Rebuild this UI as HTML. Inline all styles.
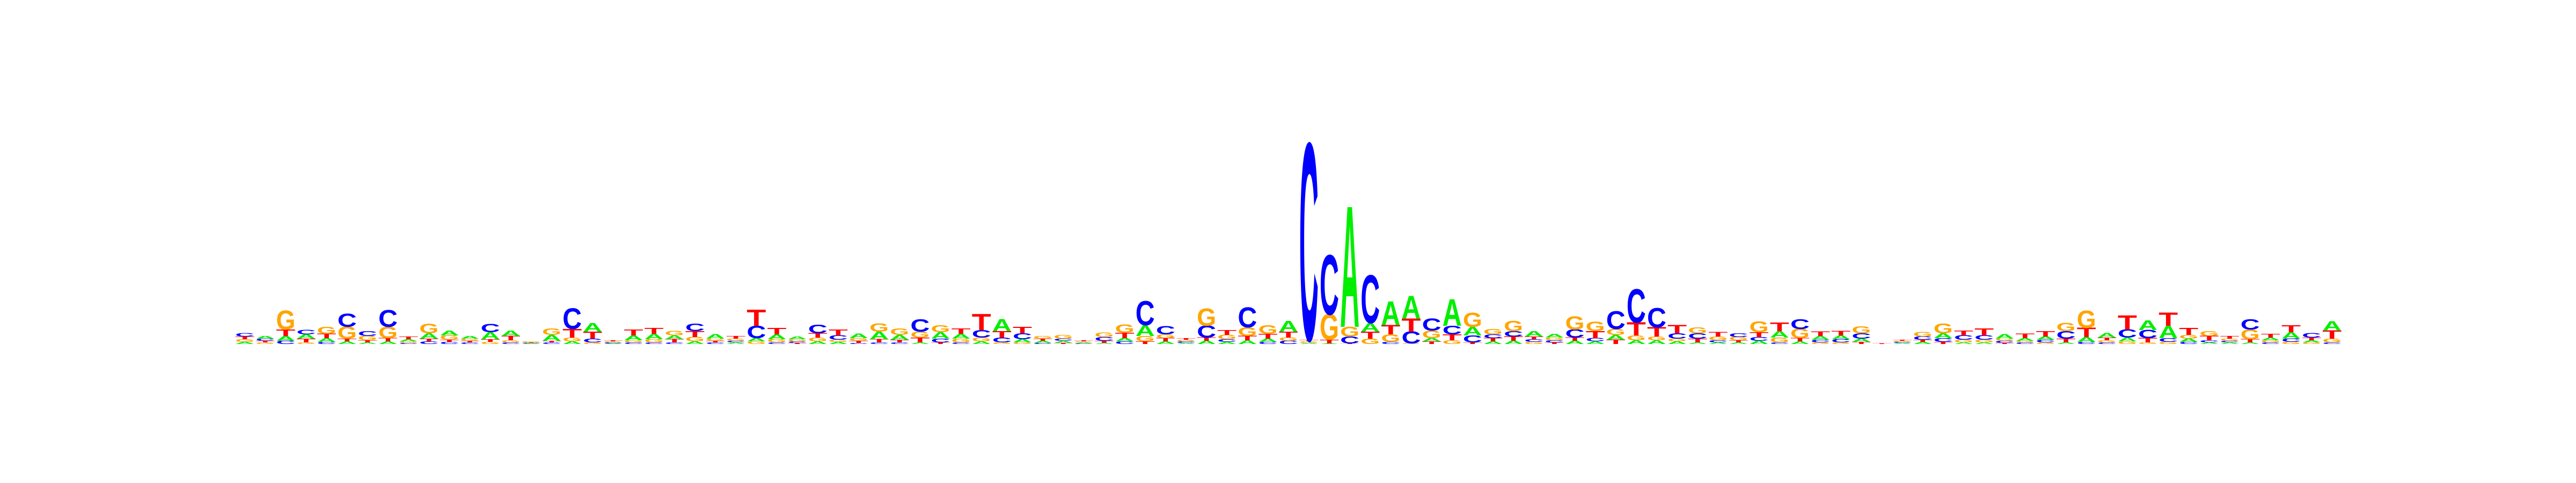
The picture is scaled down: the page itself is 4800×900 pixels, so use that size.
<!DOCTYPE html>
<html>
<head>
<meta charset="utf-8">
<style>
html,body{margin:0;padding:0;background:#fff;}
svg{display:block;}
</style>
</head>
<body>
<svg id="logo" width="4800" height="900" viewBox="0 0 4800 900" xmlns="http://www.w3.org/2000/svg">
<rect width="4800" height="900" fill="#ffffff"/>
<g id="marks"></g>
</svg>
<script>
// Letter heights per position (px-scaled information units)
const heightsA = [4,5,9,8,7,5,3,5,4,10,9,5,13,10,1,11,5,16,1,9,10,7,5,8,3,6,9,5,5,4,8,14,9,3,12,9,5,22,6,4,4,2,2,6,20,5,2,6,4,7,6,20,2,1,223,16,44,42,6,49,16,5,6,10,7,6,5,9,7,7,5,3,3,3,6,12,5,7,7,6,0,2,4,9,3,3,8,5,6,3,9,8,7,18,23,6,3,3,3,5,12,4,17];
const heightsC = [6,4,6,8,4,24,9,31,2,5,4,3,15,3,1,3,38,7,2,3,3,3,14,3,3,23,3,3,16,8,2,3,3,23,7,3,14,9,11,2,4,1,7,5,45,15,3,22,5,37,4,6,363,110,13,88,4,22,22,16,13,7,10,5,4,15,6,33,62,36,10,10,4,7,7,3,18,5,6,10,0,2,6,7,8,8,4,3,5,14,4,3,15,15,7,4,4,3,19,3,6,8,3];
const heightsG = [5,3,35,3,13,22,8,21,3,17,8,4,4,4,2,12,7,3,2,4,6,8,8,4,4,5,6,4,7,4,5,15,12,11,13,7,7,3,3,5,7,2,8,15,10,7,3,32,8,16,16,6,3,47,18,10,14,1,14,7,26,10,19,4,5,24,17,11,9,7,5,11,7,6,20,9,17,3,3,13,0,2,8,18,5,5,4,3,3,15,32,4,5,3,4,7,9,4,18,4,4,3,7];
const heightsT = [5,3,12,7,8,5,4,6,5,5,4,3,5,8,1,3,16,13,2,11,11,6,11,3,5,30,12,2,8,11,4,6,5,9,3,10,30,12,12,4,2,2,4,10,5,6,3,6,9,8,9,11,3,7,1,13,17,24,5,11,3,6,8,5,3,6,13,8,24,17,15,7,8,4,9,16,6,8,8,4,1,2,4,4,9,13,2,8,10,7,17,5,26,8,24,13,8,5,6,7,13,5,15];
const letters = ['A','C','G','T'];
const colors = {A:'#00ee00', C:'#0000ff', G:'#ffa500', T:'#ff0000'};

const x0 = 437, colW = 38.13, letterW = 36, baseY = 641, capH = 68.8;
function xPos(i){ return x0 + i*colW + (colW-letterW)/2; }
function hScale(v){ return v; }

const NS = 'http://www.w3.org/2000/svg';
const g = document.getElementById('marks');
for (let i = 0; i < heightsA.length; i++) {
  const vals = {A:heightsA[i], C:heightsC[i], G:heightsG[i], T:heightsT[i]};
  const order = letters.slice().sort((a,b)=>vals[a]-vals[b]); // smallest at bottom
  let y = baseY;
  const col = document.createElementNS(NS,'g');
  
  
  for (const L of order) {
    const h = hScale(vals[L]);
    if (h <= 0) continue;
    const t = document.createElementNS(NS,'text');
    
    
    t.setAttribute('x', 0);
    t.setAttribute('y', 0);
    t.setAttribute('font-family', '"Liberation Sans", Arial, sans-serif');
    t.setAttribute('font-weight', 'bold');
    t.setAttribute('font-size', '100');
    t.setAttribute('fill', colors[L]);
    t.setAttribute('textLength', letterW);
    t.setAttribute('lengthAdjust', 'spacingAndGlyphs');
    t.setAttribute('transform', 'translate(' + xPos(i) + ',' + y + ') scale(1,' + (h/capH) + ')');
    t.textContent = L;
    col.appendChild(t);
    y -= h;
  }
  g.appendChild(col);
}
</script>
</body>
</html>
